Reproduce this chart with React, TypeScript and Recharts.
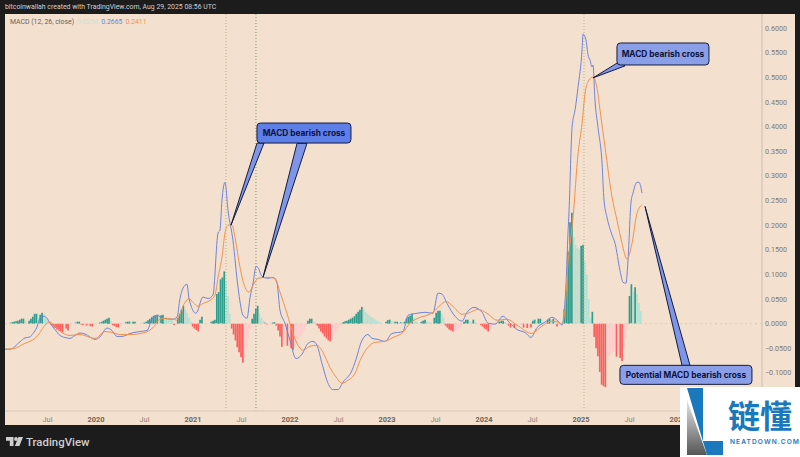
import {
  ComposedChart,
  Bar,
  Cell,
  Line,
  XAxis,
  YAxis,
  ReferenceLine,
  ReferenceDot,
} from "recharts";

// time is a decimal year, everything else is the MACD value
const macdTimes = [
  2019.062, 2019.113, 2019.216, 2019.268, 2019.32, 2019.35, 2019.392, 2019.423, 2019.464, 2019.495,
  2019.526, 2019.577, 2019.629, 2019.701, 2019.732, 2019.783, 2019.835, 2019.887, 2019.99, 2020.041,
  2020.113, 2020.165, 2020.216, 2020.268, 2020.351, 2020.454, 2020.526, 2020.577, 2020.629, 2020.691,
  2020.784, 2020.835, 2020.866, 2020.897, 2020.938, 2020.959, 2021.031, 2021.103, 2021.155, 2021.206,
  2021.258, 2021.278, 2021.299, 2021.33, 2021.361, 2021.412, 2021.464, 2021.516, 2021.557, 2021.588,
  2021.619, 2021.65, 2021.67, 2021.711, 2021.773, 2021.825, 2021.866, 2021.897, 2021.948, 2022.0,
  2022.062, 2022.124, 2022.186, 2022.237, 2022.278, 2022.33, 2022.392, 2022.443, 2022.495, 2022.546,
  2022.639, 2022.67, 2022.742, 2022.804, 2022.846, 2022.907, 2022.98, 2023.052, 2023.165, 2023.217,
  2023.31, 2023.392, 2023.474, 2023.526, 2023.567, 2023.619, 2023.701, 2023.773, 2023.825, 2023.897,
  2023.98, 2024.042, 2024.114, 2024.196, 2024.268, 2024.34, 2024.423, 2024.485, 2024.547, 2024.629,
  2024.701, 2024.763, 2024.804, 2024.825, 2024.846, 2024.866, 2024.877, 2024.908, 2024.939, 2024.97,
  2025.011, 2025.021, 2025.052, 2025.072, 2025.093, 2025.114, 2025.124, 2025.144, 2025.175, 2025.217,
  2025.237, 2025.268, 2025.32, 2025.351, 2025.402, 2025.433, 2025.464, 2025.485, 2025.516, 2025.536,
  2025.577, 2025.598, 2025.629,
];
const macdValues = [
  -0.052, -0.052, -0.037, -0.029, -0.027, -0.02, -0.007, 0.011, 0.015, 0.011,
  0.001, -0.012, -0.024, -0.029, -0.03, -0.024, -0.019, -0.021, -0.032, -0.027,
  -0.009, -0.014, -0.026, -0.026, -0.02, -0.016, -0.014, 0.009, 0.017, 0.011,
  0.009, 0.013, 0.051, 0.072, 0.08, 0.051, 0.021, 0.054, 0.051, 0.058,
  0.184, 0.19, 0.251, 0.287, 0.23, 0.169, 0.074, 0.017, 0.011, 0.053,
  0.082, 0.116, 0.114, 0.096, 0.092, 0.094, 0.082, 0.027, 0.001, -0.034,
  -0.071, -0.062, -0.04, -0.036, -0.044, -0.081, -0.121, -0.134, -0.134, -0.119,
  -0.095, -0.079, -0.034, -0.022, -0.03, -0.032, -0.036, -0.02, -0.016, 0.017,
  0.021, 0.023, 0.021, 0.062, 0.06, 0.041, 0.015, 0.005, 0.023, 0.033,
  0.023, 0.001, -0.001, 0.015, 0.001, -0.012, -0.018, -0.028, -0.008, 0.003,
  0.013, 0.005, -0.003, 0.021, 0.082, 0.184, 0.23, 0.399, 0.434, 0.481,
  0.556, 0.588, 0.576, 0.546, 0.535, 0.521, 0.525, 0.454, 0.399, 0.326,
  0.251, 0.216, 0.18, 0.163, 0.108, 0.084, 0.082, 0.129, 0.247, 0.265,
  0.287, 0.287, 0.265,
];

const signalTimes = [
  2019.062, 2019.165, 2019.268, 2019.32, 2019.371, 2019.423, 2019.474, 2019.526, 2019.577, 2019.649,
  2019.732, 2019.835, 2019.938, 2019.99, 2020.093, 2020.165, 2020.247, 2020.351, 2020.505, 2020.588,
  2020.66, 2020.732, 2020.814, 2020.835, 2020.866, 2020.918, 2020.959, 2021.0, 2021.052, 2021.103,
  2021.175, 2021.227, 2021.258, 2021.299, 2021.33, 2021.361, 2021.402, 2021.433, 2021.485, 2021.536,
  2021.577, 2021.619, 2021.67, 2021.763, 2021.845, 2021.897, 2021.969, 2022.031, 2022.083, 2022.134,
  2022.206, 2022.278, 2022.34, 2022.412, 2022.485, 2022.536, 2022.598, 2022.67, 2022.722, 2022.804,
  2022.876, 2022.98, 2023.062, 2023.165, 2023.237, 2023.32, 2023.474, 2023.547, 2023.608, 2023.68,
  2023.773, 2023.835, 2023.938, 2024.031, 2024.134, 2024.237, 2024.34, 2024.495, 2024.577, 2024.701,
  2024.763, 2024.804, 2024.835, 2024.866, 2024.908, 2024.918, 2024.97, 2025.011, 2025.042, 2025.072,
  2025.124, 2025.165, 2025.196, 2025.248, 2025.32, 2025.371, 2025.423, 2025.474, 2025.526, 2025.577,
  2025.629,
];
const signalValues = [
  -0.052, -0.05, -0.04, -0.036, -0.03, -0.018, -0.003, 0.003, -0.005, -0.018,
  -0.024, -0.022, -0.028, -0.03, -0.016, -0.018, -0.022, -0.022, -0.018, -0.008,
  0.009, 0.011, 0.008, 0.007, 0.021, 0.043, 0.051, 0.043, 0.035, 0.041,
  0.047, 0.058, 0.094, 0.135, 0.184, 0.2, 0.2, 0.175, 0.114, 0.074,
  0.064, 0.078, 0.092, 0.094, 0.092, 0.064, 0.021, -0.02, -0.044, -0.054,
  -0.046, -0.044, -0.058, -0.089, -0.111, -0.121, -0.115, -0.101, -0.075, -0.048,
  -0.038, -0.036, -0.028, -0.018, 0.001, 0.011, 0.023, 0.037, 0.045, 0.035,
  0.019, 0.021, 0.029, 0.021, 0.007, 0.009, -0.003, -0.02, -0.008, 0.005,
  0.003, -0.001, 0.027, 0.123, 0.196, 0.216, 0.346, 0.407, 0.468, 0.491,
  0.501, 0.478, 0.434, 0.358, 0.257, 0.21, 0.163, 0.131, 0.163, 0.224,
  0.241,
];

// weekly histogram, as runs of [first week, values]
const histogramRuns: [number, number[]][] = [
  [2019.113, [0.002, 0.003, 0.004, 0.005, 0.006, 0.008, 0.01, 0.01, 0.006]],
  [2019.32, [0.006, 0.01, 0.014, 0.02, 0.02, 0.012, 0.018, 0.022, 0.02, 0.014, 0.008, 0.002]],
  [2019.546, [-0.003, -0.006, -0.009, -0.012, -0.014, -0.016, -0.018]],
  [2019.701, [-0.01, -0.014]],
  [2019.783, [0.002, 0.004, 0.004, 0.003]],
  [2019.856, [-0.002, -0.003, -0.003, -0.004, -0.004, -0.005, -0.006]],
  [2020.03, [0.002, 0.004, 0.006, 0.008, 0.01, 0.012, 0.006]],
  [2020.165, [-0.003, -0.005, -0.007, -0.008]],
  [2020.3, [0.003, 0.004, 0.004, 0.003, 0.004, 0.004]],
  [2020.495, [0.002, 0.004, 0.007, 0.01, 0.013, 0.016, 0.017, 0.018, 0.016, 0.017, 0.018, 0.012, 0.01, 0.009, 0.008, 0.007, 0.005]],
  [2020.804, [-0.003]],
  [2020.845, [0.012, 0.02, 0.028, 0.036, 0.03, 0.022, 0.012, 0.004]],
  [2020.99, [-0.006, -0.01, -0.013, -0.016, -0.018]],
  [2021.082, [0.008, 0.014]],
  [2021.186, [0.004, 0.006, 0.008, 0.06, 0.064, 0.09, 0.094, 0.106, 0.086, 0.056, 0.02]],
  [2021.402, [-0.01, -0.022, -0.034, -0.048, -0.058, -0.068, -0.079, -0.07, -0.05, -0.03, -0.012]],
  [2021.608, [0.01, 0.02, 0.03, 0.036, 0.02, 0.012, 0.006]],
  [2021.742, [0.002]],
  [2021.773, [-0.002, -0.002]],
  [2021.825, [0.002, 0.003, 0.002]],
  [2021.866, [-0.004, -0.014, -0.026, -0.047, -0.044, -0.043, -0.045, -0.044, -0.05, -0.053, -0.048, -0.04, -0.032, -0.026, -0.02, -0.012, -0.004]],
  [2022.186, [0.006, 0.01, 0.01, 0.005, 0.002]],
  [2022.289, [-0.004, -0.01, -0.016, -0.02, -0.026, -0.03, -0.034, -0.036, -0.03, -0.024, -0.018, -0.012, -0.008, -0.004]],
  [2022.557, [0.003, 0.005, 0.006, 0.008, 0.01, 0.012, 0.015, 0.02, 0.024, 0.028, 0.034, 0.03, 0.024, 0.02, 0.017, 0.014, 0.012, 0.009, 0.006, 0.004, 0.003]],
  [2023.0, [0.004, 0.007, 0.008, 0.005, 0.004, 0.004, 0.004, 0.003, 0.003, 0.002]],
  [2023.186, [0.004, 0.01, 0.014, 0.016, 0.02, 0.012, 0.006, 0.003]],
  [2023.36, [0.004, 0.006, 0.008, 0.005, 0.003, 0.002]],
  [2023.485, [0.012, 0.022, 0.026, 0.026, 0.02, 0.012, 0.006]],
  [2023.608, [-0.004, -0.008, -0.012, -0.014, -0.016, -0.016, -0.014, -0.01, -0.006, -0.003]],
  [2023.804, [0.004, 0.008, 0.008, 0.004, 0.002, 0.008, 0.003, 0.001]],
  [2023.969, [-0.003, -0.006, -0.01, -0.012, -0.016, -0.01, -0.006, -0.003]],
  [2024.165, [0.004, 0.006, 0.006, 0.003, 0.001]],
  [2024.247, [-0.004, -0.008, -0.004, -0.009, -0.004]],
  [2024.402, [-0.008, -0.004, -0.009, -0.002, -0.008, -0.009]],
  [2024.505, [0.006, 0.008, 0.004, 0.01, 0.01, 0.006]],
  [2024.65, [0.008, 0.01, 0.006, 0.01]],
  [2024.763, [-0.006, -0.003]],
  [2024.835, [0.03, 0.066, 0.146, 0.206, 0.225, 0.176, 0.16, 0.154, 0.15, 0.158, 0.16, 0.126, 0.1, 0.05, 0.012, 0.024]],
  [2025.134, [-0.027, -0.05, -0.066, -0.098, -0.124, -0.127, -0.129, -0.075, -0.066, -0.062, -0.058, -0.056, -0.067, -0.06, -0.07, -0.076, -0.05, -0.03, -0.012]],
  [2025.5, [0.056, 0.08, 0.066, 0.074, 0.06, 0.042, 0.0254]],
];

const xTicks = [2019.5, 2020, 2020.5, 2021, 2021.5, 2022, 2022.5, 2023, 2023.5, 2024, 2024.5, 2025, 2025.5, 2026];
const yTicks = [-0.1, -0.05, 0, 0.05, 0.1, 0.15, 0.2, 0.25, 0.3, 0.35, 0.4, 0.45, 0.5, 0.55, 0.6];
const crossMarkers = [2021.34, 2021.649, 2025.031];

const BG = "#f3e0cf";
const DARK = "#1c1c1c";
const WEEK = 7 / 365.25;
const FIRST_WEEK = 2019.1;
const X_DOMAIN = [2019.062, 2026.866];

// bars share one weekly grid, otherwise the band size of the number axis collapses
const weeks = new Map<number, { t: number; h: number; prev: number }>();
histogramRuns.forEach(([start, values]) => {
  const first = Math.round((start - FIRST_WEEK) / WEEK);
  values.forEach((h, i) => {
    weeks.set(first + i, { t: FIRST_WEEK + (first + i) * WEEK, h, prev: i > 0 ? values[i - 1] : 0 });
  });
});
const histData = Array.from(weeks.values()).sort((a, b) => a.t - b.t);
const macdData = macdTimes.map((t, i) => ({ t, v: macdValues[i] }));
const signalData = signalTimes.map((t, i) => ({ t, v: signalValues[i] }));

function barColor(h: number, prev: number) {
  if (h >= 0) return h >= prev ? "#2f9c8d" : "#b4e0d3";
  return h < prev ? "#fb5f5c" : "#fccdcb";
}

const formatY = (v: number) => (v < 0 ? `\u2212${Math.abs(v).toFixed(4)}` : v.toFixed(4));

function TimeTick({ x, y, payload }: any) {
  const year = Number.isInteger(payload.value);
  return (
    <text
      x={x}
      y={y + 3}
      textAnchor="middle"
      fontFamily="Roboto"
      fontSize={7.4}
      fontWeight={year ? 700 : 400}
      fill={year ? "#6e655c" : "#8d8378"}
    >
      {year ? payload.value : "Jul"}
    </text>
  );
}

// tail of a callout, base is given relative to the tip
function tail(dx1: number, dy1: number, dx2: number, dy2: number) {
  return ({ cx, cy }: any) => (
    <polygon
      points={`${cx},${cy} ${cx + dx1},${cy + dy1} ${cx + dx2},${cy + dy2}`}
      fill="#7f96e8"
      stroke="#141c3c"
      strokeWidth={1}
      strokeLinejoin="round"
    />
  );
}

function box(label: string, w: number, h: number, fill: string) {
  return ({ cx, cy }: any) => (
    <g>
      <rect
        x={cx - w / 2}
        y={cy - h / 2}
        width={w}
        height={h}
        rx={3.5}
        fill={fill}
        stroke="#141c3c"
        strokeWidth={1}
      />
      <text
        x={cx}
        y={cy + 3}
        textAnchor="middle"
        fontFamily="Inter"
        fontWeight={700}
        fontSize={8.3}
        fill="#0b1238"
      >
        {label}
      </text>
    </g>
  );
}

function Watermark() {
  return (
    <div style={{ position: "absolute", left: 680, top: 387, width: 120, height: 70, background: "#fff" }}>
      <svg width={120} height={70}>
        <defs>
          <linearGradient id="wm" x1="0" y1="0" x2="0" y2="1">
            <stop offset="0" stopColor="#e6e6e6" />
            <stop offset="1" stopColor="#555" />
          </linearGradient>
        </defs>
        <polygon points="7,1 23,1 23,54 43,54 43,68 27,68" fill="#1a78bd" />
        <polygon points="7,13 7,68 27,68" fill="url(#wm)" />
        <text x={48} y={41} fontFamily="Noto Sans CJK SC" fontWeight={700} fontSize={32} fill="#1a78bd">
          链懂
        </text>
        <text x={50} y={57} fontFamily="Inter" fontWeight={600} fontSize={6.6} letterSpacing={1.1} fill="#1a78bd">
          NEATDOWN.COM
        </text>
      </svg>
    </div>
  );
}

export default function App() {
  return (
    <div
      style={{
        position: "absolute",
        left: 0,
        top: 0,
        width: 800,
        height: 457,
        overflow: "hidden",
        background: DARK,
        fontFamily: "Roboto",
      }}
    >
      <div style={{ position: "absolute", left: 5, top: 14, width: 790, height: 411, background: BG }} />
      <div style={{ position: "absolute", left: 5, top: 3, fontSize: 6.9, color: "#d0d0d0", whiteSpace: "nowrap" }}>
        bitcoinwallah created with TradingView.com, Aug 29, 2025 08:56 UTC
      </div>
      <div style={{ position: "absolute", left: 10, top: 18, fontSize: 6.9, color: "#6b625a", whiteSpace: "nowrap" }}>
        MACD (12, 26, close)
        <span style={{ color: "#c6e2d8", marginLeft: 3 }}>0.0254</span>
        <span style={{ color: "#6f83d8", marginLeft: 3 }}>0.2665</span>
        <span style={{ color: "#f0924f", marginLeft: 3 }}>0.2411</span>
      </div>

      <div style={{ position: "absolute", left: 0, top: 0 }}>
        <ComposedChart
          width={800}
          height={457}
          data={histData}
          margin={{ top: 14, right: 5, bottom: 32, left: 5 }}
          barGap={0}
        >
          <XAxis
            dataKey="t"
            type="number"
            domain={X_DOMAIN}
            ticks={xTicks}
            interval={0}
            tick={TimeTick}
            tickLine={false}
            axisLine={{ stroke: "#e0d2c2", strokeWidth: 1.5 }}
            height={14}
          />
          {/* own hidden axis for the bars, the line points are closer than a week */}
          <XAxis xAxisId="bars" dataKey="t" type="number" domain={X_DOMAIN} hide />
          <YAxis
            orientation="right"
            type="number"
            domain={[-0.1774, 0.6287]}
            ticks={yTicks}
            interval={0}
            tickFormatter={formatY}
            tick={{ fill: "#85796d", fontSize: 7.2, fontFamily: "Roboto" }}
            tickLine={false}
            tickSize={1}
            axisLine={{ stroke: "#c9bdaf" }}
            width={33}
          />
          <ReferenceLine y={0} stroke="#dccfc0" strokeDasharray="2 3" />
          <ReferenceLine x={crossMarkers[0]} stroke="#b3b67f" strokeDasharray="1 2" />
          <ReferenceLine x={crossMarkers[1]} stroke="#78a563" strokeDasharray="1 2" />
          <ReferenceLine x={crossMarkers[2]} stroke="#b3b67f" strokeDasharray="1 2" />
          <Bar xAxisId="bars" dataKey="h" barSize={1.7} isAnimationActive={false}>
            {histData.map((d, i) => (
              <Cell key={i} fill={barColor(d.h, d.prev)} />
            ))}
          </Bar>
          <Line data={macdData} dataKey="v" type="monotone" stroke="#6f83d8" strokeWidth={1} dot={false} isAnimationActive={false} />
          <Line data={signalData} dataKey="v" type="monotone" stroke="#f0924f" strokeWidth={1} dot={false} isAnimationActive={false} />

          <ReferenceDot x={2021.392} y={0.2} ifOverflow="visible" shape={tail(26, -82, 33, -82)} />
          <ReferenceDot x={2021.722} y={0.094} ifOverflow="visible" shape={tail(34, -134, 44, -134)} />
          <ReferenceDot x={2025.124} y={0.499} ifOverflow="visible" shape={tail(26, -16, 32, -12)} />
          <ReferenceDot x={2025.66} y={0.238} ifOverflow="visible" shape={tail(37, 159, 45, 159)} />
          <ReferenceDot x={2022.144} y={0.387} ifOverflow="visible" shape={box("MACD bearish cross", 94, 20, "#5f7fe8")} />
          <ReferenceDot x={2025.845} y={0.5475} ifOverflow="visible" shape={box("MACD bearish cross", 92, 22, "#8a9fe8")} />
          <ReferenceDot x={2026.082} y={-0.104} ifOverflow="visible" shape={box("Potential MACD bearish cross", 132, 19, "#8a9fe8")} />
        </ComposedChart>
      </div>

      <svg style={{ position: "absolute", left: 6, top: 436 }} width={18} height={12}>
        <path d="M0 1h7.5v9H3.8V4.7H0z M12.5 1h4.5l-3.6 9H8.9z" fill="#cfcfcf" />
        <circle cx="10" cy="3" r="1.9" fill="#cfcfcf" />
      </svg>
      <div style={{ position: "absolute", left: 26, top: 435, fontSize: 11.4, fontWeight: 500, color: "#cfcfcf" }}>
        TradingView
      </div>
      <Watermark />
    </div>
  );
}
